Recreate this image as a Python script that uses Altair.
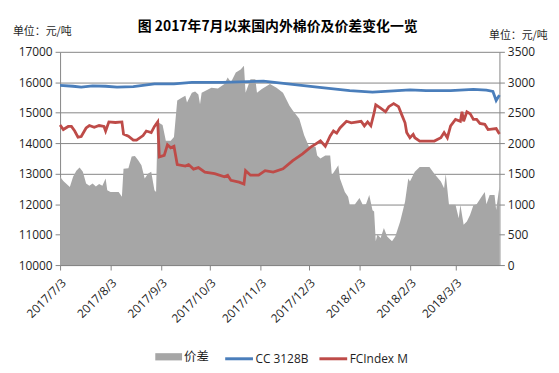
import altair as alt
import pandas as pd

# ---------------- data ----------------
spread_dates = ["2017-07-03","2017-07-05","2017-07-07","2017-07-09","2017-07-11","2017-07-13","2017-07-15","2017-07-17",
    "2017-07-19","2017-07-21","2017-07-23","2017-07-25","2017-07-27","2017-07-29","2017-07-31","2017-08-01","2017-08-03",
    "2017-08-08","2017-08-10","2017-08-11","2017-08-14","2017-08-16","2017-08-18","2017-08-20","2017-08-22","2017-08-24",
    "2017-08-26","2017-08-28","2017-08-30","2017-08-31","2017-09-01","2017-09-04","2017-09-06","2017-09-09","2017-09-11",
    "2017-09-13","2017-09-16","2017-09-18","2017-09-19","2017-09-22","2017-09-24","2017-09-26","2017-09-27","2017-09-28",
    "2017-10-04","2017-10-08","2017-10-12","2017-10-14","2017-10-16","2017-10-19","2017-10-22","2017-10-24","2017-10-25",
    "2017-10-28","2017-10-31","2017-11-01","2017-11-04","2017-11-09","2017-11-13","2017-11-17","2017-11-21","2017-11-23",
    "2017-11-27","2017-11-30","2017-12-03","2017-12-07","2017-12-08","2017-12-10","2017-12-13","2017-12-16","2017-12-17",
    "2017-12-21","2017-12-22","2017-12-25","2017-12-27","2017-12-28","2017-12-31","2018-01-03","2018-01-05","2018-01-07",
    "2018-01-09","2018-01-11","2018-01-12","2018-01-13","2018-01-14","2018-01-16","2018-01-18","2018-01-20","2018-01-23",
    "2018-01-25","2018-01-28","2018-01-31","2018-02-02","2018-02-03","2018-02-06","2018-02-09","2018-02-15","2018-02-18",
    "2018-02-22","2018-02-24","2018-02-25","2018-02-27","2018-03-03","2018-03-05","2018-03-06","2018-03-08","2018-03-10",
    "2018-03-12","2018-03-14","2018-03-16","2018-03-19","2018-03-21","2018-03-22","2018-03-24","2018-03-27","2018-03-28",
    "2018-03-30"]
spread_values = [1450,1380,1330,1280,1450,1550,1600,1530,
    1340,1300,1340,1290,1330,1300,1420,1230,1200,
    1200,1120,1580,1590,1780,1790,1720,1640,1420,
    1500,1530,1230,1200,2350,2300,2040,2040,2100,
    2700,2750,2780,2670,2830,2850,2800,2640,2830,
    2910,2900,2970,3080,3000,3160,3210,3270,2830,
    3050,3050,2830,2890,2970,2910,2830,2615,2535,
    2400,2130,1940,1940,1800,1750,1800,1800,1475,
    1640,1420,1200,1120,990,990,1100,990,1000,
    1150,900,880,390,500,445,610,470,390,
    470,715,1040,1420,1370,1530,1610,1610,1500,
    1370,1260,1500,990,990,770,990,660,715,
    825,980,1000,1120,1200,1000,1150,1150,905,
    1290]

cc_dates = ["2017-07-03","2017-07-11","2017-07-16","2017-07-23","2017-07-31","2017-08-07","2017-08-17","2017-08-30",
    "2017-09-11","2017-09-22","2017-10-11","2017-11-05","2017-11-20","2017-12-08","2017-12-28","2018-01-11","2018-01-24",
    "2018-02-03","2018-02-13","2018-02-28","2018-03-14","2018-03-22","2018-03-26","2018-03-28","2018-03-30"]
cc_values = [15900,15870,15840,15880,15870,15840,15860,15950,
    15950,16000,16000,16040,15950,15840,15730,15680,15720,
    15750,15730,15730,15770,15740,15700,15400,15580]

fc_dates = ["2017-07-03","2017-07-05","2017-07-08","2017-07-10","2017-07-12","2017-07-14","2017-07-16","2017-07-19",
    "2017-07-21","2017-07-24","2017-07-27","2017-07-30","2017-07-31","2017-08-02","2017-08-06","2017-08-10","2017-08-11",
    "2017-08-14","2017-08-17","2017-08-19","2017-08-23","2017-08-25","2017-08-28","2017-08-30","2017-09-01","2017-09-02",
    "2017-09-05","2017-09-07","2017-09-09","2017-09-11","2017-09-13","2017-09-18","2017-09-20","2017-09-23","2017-09-26",
    "2017-09-30","2017-10-06","2017-10-12","2017-10-14","2017-10-16","2017-10-21","2017-10-24","2017-10-25","2017-10-28",
    "2017-11-02","2017-11-06","2017-11-11","2017-11-17","2017-11-23","2017-11-29","2017-12-04","2017-12-07","2017-12-10",
    "2017-12-13","2017-12-16","2017-12-18","2017-12-20","2017-12-22","2017-12-26","2017-12-29","2018-01-04","2018-01-06",
    "2018-01-08","2018-01-10","2018-01-12","2018-01-13","2018-01-16","2018-01-19","2018-01-21","2018-01-24","2018-01-27",
    "2018-01-29","2018-01-31","2018-02-01","2018-02-03","2018-02-05","2018-02-06","2018-02-09","2018-02-18","2018-02-22",
    "2018-02-24","2018-02-26","2018-02-28","2018-03-03","2018-03-06","2018-03-07","2018-03-08","2018-03-10","2018-03-12",
    "2018-03-14","2018-03-16","2018-03-18","2018-03-21","2018-03-23","2018-03-28","2018-03-30"]
fc_values = [14600,14450,14550,14550,14400,14200,14220,14500,
    14580,14520,14580,14550,14400,14700,14680,14700,14300,
    14230,14100,14100,14250,14400,14350,14550,14700,13550,
    13600,13950,13850,13900,13300,13250,13300,13150,13200,
    13050,13000,12900,12950,12780,12720,12660,13100,12950,
    12950,13100,13050,13160,13430,13650,13870,13970,14080,
    13900,14240,14400,14330,14500,14720,14670,14720,14570,
    14700,14570,15000,15260,15150,15030,15200,15300,15200,
    14930,14670,14350,14180,14290,14180,14070,14070,14180,
    14350,14180,14570,14780,14720,15030,14720,15030,14970,
    14780,14780,14650,14620,14450,14480,14300]

series_names = ["价差", "CC 3128B", "FCIndex M"]
series_colors = ["#a6a6a6", "#4a7ebb", "#be4b48"]
left_ticks = [10000, 11000, 12000, 13000, 14000, 15000, 16000, 17000]
right_ticks = [0, 500, 1000, 1500, 2000, 2500, 3000, 3500]
month_ticks = [(2017, 7, 3), (2017, 8, 3), (2017, 9, 3), (2017, 10, 3), (2017, 11, 3),
               (2017, 12, 3), (2018, 1, 3), (2018, 2, 3), (2018, 3, 3)]
title_text = "图 2017年7月以来国内外棉价及价差变化一览"
unit_text = "单位：元/吨"

# ---------------- tables ----------------
spread_df = pd.DataFrame({"date": pd.to_datetime(spread_dates), "value": spread_values, "series": series_names[0]})
cc_df = pd.DataFrame({"date": pd.to_datetime(cc_dates), "value": cc_values, "series": series_names[1]})
fc_df = pd.DataFrame({"date": pd.to_datetime(fc_dates), "value": fc_values, "series": series_names[2]})

FONT = "Open Sans, Noto Sans CJK SC"
CJK = "Noto Sans CJK SC"
GRID = "#868686"
TXT = "#1e1e1e"
LEG_Y = 294

x_enc = alt.X(
    "date:T",
    scale=alt.Scale(domain=[alt.DateTime(year=2017, month=7, date=3), alt.DateTime(year=2018, month=3, date=30)]),
    axis=alt.Axis(
        values=[alt.DateTime(year=y, month=m, date=d) for (y, m, d) in month_ticks],
        labelExpr="timeFormat(datum.value, '%Y') + '/' + (month(datum.value) + 1) + '/' + date(datum.value)",
        labelAngle=-45, labelPadding=7, title=None, grid=False,
    ),
)

area = alt.Chart(spread_df).mark_area(interpolate="linear", opacity=1).encode(
    x=x_enc,
    y=alt.Y("value:Q",
            scale=alt.Scale(domain=[0, 3500], nice=False, zero=True),
            axis=alt.Axis(orient="right", values=right_ticks, format="d", grid=False, title=unit_text,
                          titleAngle=0, titleAlign="left", titleBaseline="middle",
                          titleX=-11, titleY=-16, titleFont=CJK, titleFontSize=11,
                          titleFontWeight="normal", titleColor=TXT)),
    fill=alt.Fill("series:N",
                  scale=alt.Scale(domain=[series_names[0]], range=[series_colors[0]]),
                  legend=alt.Legend(orient="none", legendX=96, legendY=LEG_Y, title=None,
                                    symbolType="M-1,-0.27H1V0.27H-1Z", symbolSize=729,
                                    symbolStrokeWidth=0, labelFontSize=12.5, labelFont=CJK,
                                    labelOffset=2, padding=0)),
)

blue = alt.Chart(cc_df).mark_line(strokeWidth=2.8, interpolate="linear").encode(
    x=x_enc,
    y=alt.Y("value:Q",
            scale=alt.Scale(domain=[10000, 17000], nice=False, zero=False),
            axis=alt.Axis(orient="left", values=left_ticks, format="d", grid=True, gridColor=GRID, gridWidth=1,
                          title=unit_text, titleAngle=0, titleAlign="left", titleBaseline="middle",
                          titleX=-48, titleY=-20, titleFont=CJK, titleFontSize=11,
                          titleFontWeight="normal", titleColor=TXT)),
    stroke=alt.Stroke("series:N",
                      scale=alt.Scale(domain=[series_names[1]], range=[series_colors[1]]),
                      legend=alt.Legend(orient="none", legendX=165, legendY=LEG_Y, title=None,
                                        symbolType="stroke", symbolSize=784, symbolStrokeWidth=3,
                                        labelFontSize=12, labelOffset=1, padding=0)),
)

red = alt.Chart(fc_df).mark_line(strokeWidth=2.8, interpolate="linear").encode(
    x=x_enc,
    y=alt.Y("value:Q", scale=alt.Scale(domain=[10000, 17000], nice=False, zero=False), axis=None),
    stroke=alt.Stroke("series:N",
                      scale=alt.Scale(domain=[series_names[2]], range=[series_colors[2]]),
                      legend=alt.Legend(orient="none", legendX=260, legendY=LEG_Y, title=None,
                                        symbolType="stroke", symbolSize=784, symbolStrokeWidth=3,
                                        labelFontSize=12, labelOffset=1, padding=0)),
)

chart = alt.layer(area, blue, red).resolve_scale(
    y="independent", fill="independent", stroke="independent"
).properties(
    width=443, height=215,
    autosize=alt.AutoSizeParams(type="none"),
    padding={"left": 52.5, "top": 42.7, "right": 52, "bottom": 104},
    title=alt.TitleParams(title_text, font=CJK, fontSize=14, fontWeight="bold", color="#000000",
                          anchor="middle", frame="group", offset=16, dx=-2, dy=24),
).configure_view(stroke=None).configure_axis(
    labelFont=FONT, labelFontSize=12, labelColor=TXT,
    domainColor=GRID, tickColor=GRID, tickSize=5, labelPadding=3,
).configure_legend(labelFont=FONT, labelColor=TXT)

chart.save("out.html", embed_options={"renderer": "svg", "actions": False})
